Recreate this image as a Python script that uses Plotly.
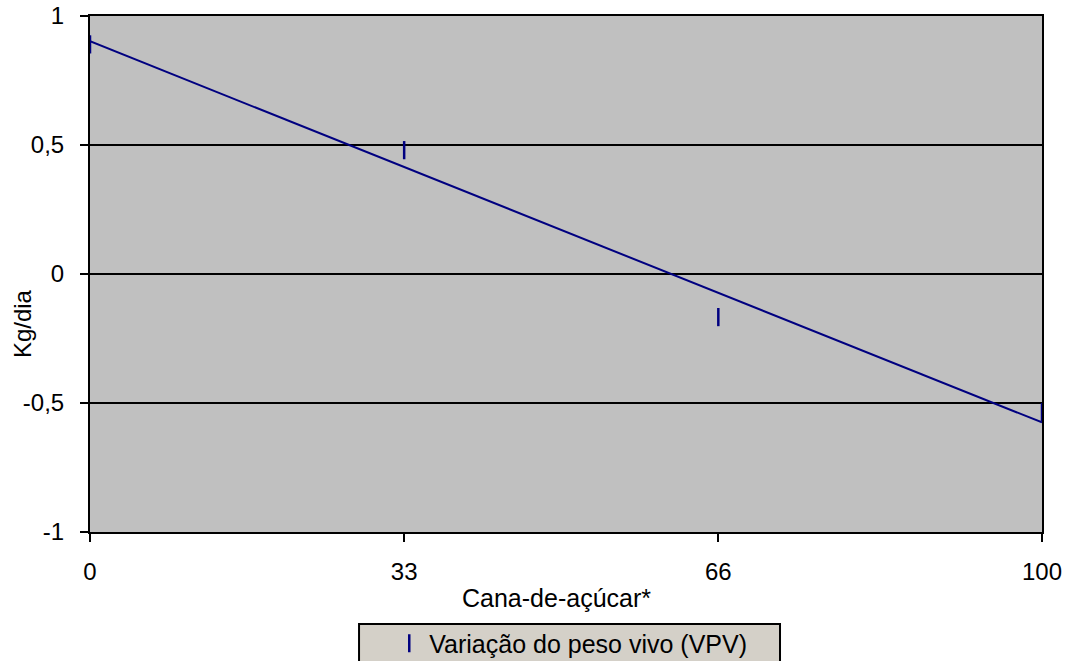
import numpy as np
import plotly.graph_objects as go

# Data
cana_pct = [0, 33, 66, 100]
vpv = [0.89, 0.48, -0.167, -0.535]
x_ticks = [0, 33, 66, 100]
x_ticktext = ["0", "33", "66", "100"]
y_ticks = [1, 0.5, 0, -0.5, -1]
y_ticktext = ["1", "0,5", "0", "-0,5", "-1"]
series_name = "Variação do peso vivo (VPV)"
x_title = "Cana-de-açúcar*"
y_title = "Kg/dia"

# Linear trend line fitted to the data
slope, intercept = np.polyfit(cana_pct, vpv, 1)
trend_x = [min(cana_pct), max(cana_pct)]
trend_y = [intercept + slope * v for v in trend_x]

FONT = "Liberation Sans, Arial, sans-serif"
NAVY = "#000080"

fig = go.Figure()
fig.add_trace(go.Scatter(
    x=trend_x, y=trend_y, mode="lines",
    line=dict(color=NAVY, width=2), showlegend=False, hoverinfo="skip",
))
fig.add_trace(go.Scatter(
    x=cana_pct, y=vpv, mode="markers", name=series_name,
    marker=dict(symbol="line-ns", size=13, line=dict(color=NAVY, width=2.5), color=NAVY),
    cliponaxis=False,
))

fig.update_layout(
    width=1065, height=661,
    margin=dict(l=90, r=23, t=16, b=129, autoexpand=False),
    paper_bgcolor="white",
    plot_bgcolor="#C0C0C0",
    font=dict(family=FONT, size=24, color="black"),
    showlegend=True,
    legend=dict(
        x=0.505, xanchor="center", y=-0.1715, yanchor="top",
        bgcolor="rgba(0,0,0,0)", borderwidth=0,
        font=dict(family=FONT, size=25, color="black"),
        itemwidth=30,
    ),
    shapes=[
        dict(type="rect", xref="paper", yref="paper",
             x0=0.2826, x1=0.7248, y0=-0.1783, y1=-0.26,
             fillcolor="#D4D0C8", line=dict(color="black", width=2), layer="below"),
    ],
    xaxis=dict(
        range=[0, 100], tickvals=x_ticks, ticktext=x_ticktext,
        showgrid=False, zeroline=False, automargin=False,
        showline=True, linecolor="black", linewidth=2, mirror=True,
        ticks="outside", ticklen=8, tickwidth=2, tickcolor="black",
        tickfont=dict(family=FONT, size=24), ticklabelstandoff=9,
    ),
    yaxis=dict(
        range=[-1, 1], tickvals=y_ticks, ticktext=y_ticktext,
        showgrid=True, gridcolor="black", gridwidth=2, zeroline=False, automargin=False,
        showline=True, linecolor="black", linewidth=2, mirror=True,
        ticks="outside", ticklen=8, tickwidth=2, tickcolor="black",
        tickfont=dict(family=FONT, size=24), ticklabelstandoff=11,
    ),
    annotations=[
        dict(text=x_title, xref="paper", yref="paper", x=0.49, y=-0.128,
             xanchor="center", yanchor="middle", showarrow=False,
             font=dict(family=FONT, size=25)),
        dict(text=y_title, xref="paper", yref="paper", x=-0.0714, y=0.403,
             xanchor="center", yanchor="middle", showarrow=False, textangle=-90,
             font=dict(family=FONT, size=24)),
    ],
)

fig.write_html(
    "out.html",
    config={"displayModeBar": False},
    post_script="document.body.style.margin='0';document.body.style.overflow='hidden';"
                "document.documentElement.style.overflow='hidden';",
)
